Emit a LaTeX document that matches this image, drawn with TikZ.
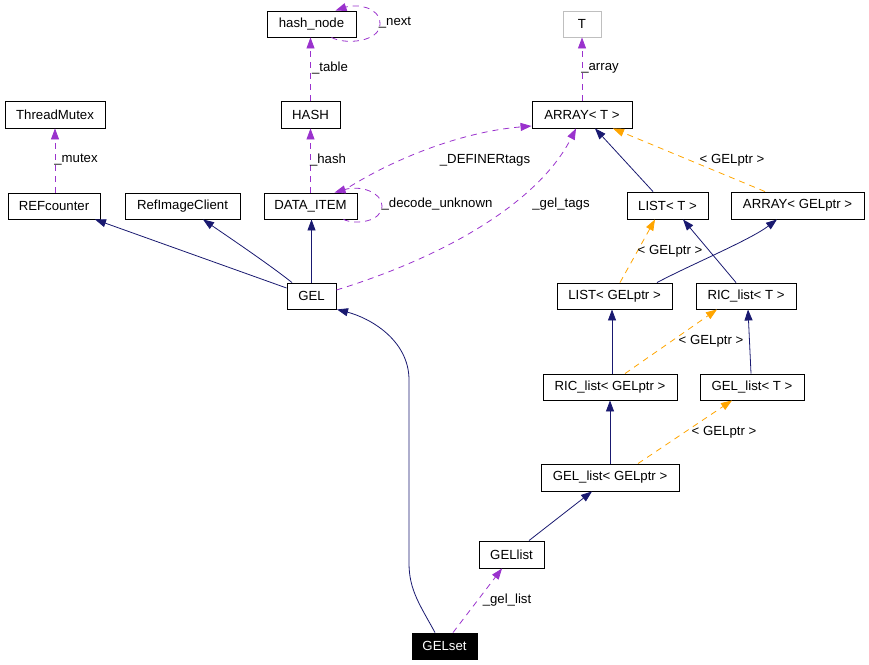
\documentclass[tikz,border=0pt]{standalone}
\usepackage{fontspec}
\setmainfont{Liberation Sans}
\usetikzlibrary{arrows.meta,calc}
\definecolor{navy}{HTML}{191970}
\definecolor{orchid}{HTML}{9A32CD}
\definecolor{orng}{HTML}{FFA500}
\definecolor{lgray}{HTML}{BFBFBF}
\begin{document}
\begin{tikzpicture}[x=1pt,y=-1pt,
  font=\fontsize{13.2}{15}\selectfont,
  box/.style={draw=black,line width=0.9pt,inner sep=0pt,rectangle},
  lbl/.style={inner sep=0pt,text=black},
  inh/.style={draw=navy,line width=0.8pt,-{Triangle[length=11pt,width=8pt]}},
  use/.style={draw=orchid,line width=0.8pt,dash pattern=on 6pt off 5pt,-{Triangle[length=11pt,width=8pt]}},
  tmpl/.style={draw=orng,line width=0.8pt,dash pattern=on 6pt off 5pt,-{Triangle[length=11pt,width=8pt]}}]
\useasboundingbox (0,0) rectangle (869,664);
% nodes
\node[box,minimum width=89pt,minimum height=26pt] (hashnode) at (311.5,24) {hash\_node};
\node[box,minimum width=59pt,minimum height=27pt] (HASH) at (310.5,114.5) {HASH};
\node[box,draw=lgray,minimum width=38pt,minimum height=26pt] (T) at (582,24) {T};
\node[box,minimum width=100pt,minimum height=27pt] (ARRAYT) at (582,114.5) {ARRAY< T >};
\node[box,minimum width=100pt,minimum height=27pt] (ThreadMutex) at (55,114.5) {ThreadMutex};
\node[box,minimum width=92pt,minimum height=26pt] (REFcounter) at (54,206) {REFcounter};
\node[box,minimum width=115pt,minimum height=26pt] (RefImageClient) at (182.5,206) {RefImageClient};
\node[box,minimum width=93pt,minimum height=26pt] (DATAITEM) at (310.5,206) {DATA\_ITEM};
\node[box,minimum width=49pt,minimum height=26pt] (GEL) at (311.5,296) {GEL};
\node[box,minimum width=81pt,minimum height=27pt] (LISTT) at (667.5,205.5) {LIST< T >};
\node[box,minimum width=133pt,minimum height=27pt] (ARRAYG) at (797.5,205.5) {ARRAY< GELptr >};
\node[box,minimum width=115pt,minimum height=26pt] (LISTG) at (614.5,296) {LIST< GELptr >};
\node[box,minimum width=100pt,minimum height=26pt] (RICT) at (746,296) {RIC\_list< T >};
\node[box,minimum width=134pt,minimum height=26pt] (RICG) at (610,387) {RIC\_list< GELptr >};
\node[box,minimum width=104pt,minimum height=26pt] (GELT) at (752,387) {GEL\_list< T >};
\node[box,minimum width=138pt,minimum height=27pt] (GELLG) at (610,477.5) {GEL\_list< GELptr >};
\node[box,minimum width=65pt,minimum height=27pt] (GELlist) at (511.5,554.5) {GELlist};
\node[box,fill=black,text=white,minimum width=65pt,minimum height=26pt] (GELset) at (444.5,646) {GELset};
% usage edges
\draw[use] (HASH.north) -- (HASH.north |- hashnode.south);
\draw[use] ([xshift=20pt]hashnode.south) .. controls (345,45) and (380,42) .. (380,24) .. controls (380,6) and (355,4) .. ([xshift=24pt]hashnode.north);
\draw[use] (DATAITEM.north) -- (DATAITEM.north |- HASH.south);
\draw[use] ([xshift=1pt]REFcounter.north) -- (ThreadMutex.south);
\draw[use] (ARRAYT.north) -- (T.south);
\draw[use] ([xshift=33pt]DATAITEM.south) .. controls (355,225) and (382,222) .. (382,206) .. controls (382,192) and (360,185) .. ([xshift=24pt]DATAITEM.north);
\draw[use] ([xshift=30pt]DATAITEM.north) .. controls (390,160) and (460,132) .. ([yshift=-11.5pt]ARRAYT.west);
\draw[use] ([yshift=6pt]GEL.east) .. controls (450,255) and (540,200) .. ([xshift=-6pt]ARRAYT.south);
\draw[use] ([xshift=8.5pt]GELset.north) -- ([xshift=-9.5pt]GELlist.south);
% inheritance edges
\draw[inh] ([yshift=8pt]GEL.west) -- ([xshift=41pt]REFcounter.south);
\draw[inh] ([xshift=-19.5pt]GEL.north) .. controls (270,265) and (230,238) .. ([xshift=20.5pt]RefImageClient.south);
\draw[inh] (GEL.north) -- (GEL.north |- DATAITEM.south);
\draw[inh] ([xshift=-14.5pt]LISTT.north) -- ([xshift=13pt]ARRAYT.south);
\draw[inh] ([xshift=42.5pt]LISTG.north) .. controls (690,265) and (750,240) .. ([xshift=-20.5pt]ARRAYG.south);
\draw[inh] ([xshift=-10pt]RICT.north) -- ([xshift=15.5pt]LISTT.south);
\draw[inh] ([xshift=2pt]RICG.north) -- ([xshift=-2.5pt]LISTG.south);
\draw[inh] ([xshift=-1pt]GELT.north) -- ([xshift=2pt]RICT.south);
\draw[inh] (GELLG.north) -- (RICG.south);
\draw[inh] ([xshift=17.5pt]GELlist.north) -- ([xshift=-18pt]GELLG.south);
\draw[inh] ([xshift=-9.5pt]GELset.north) .. controls (420,605) and (409,590) .. (409,563) -- (409,380) .. controls (409,340) and (370,318) .. ([xshift=25.5pt]GEL.south);
% template edges
\draw[tmpl] ([xshift=-32.5pt]ARRAYG.north) -- ([xshift=31pt]ARRAYT.south);
\draw[tmpl] ([xshift=5.5pt]LISTG.north) -- ([xshift=-12.5pt]LISTT.south);
\draw[tmpl] ([xshift=15pt]RICG.north) -- ([xshift=-29pt]RICT.south);
\draw[tmpl] ([xshift=28pt]GELLG.north) -- ([xshift=-20pt]GELT.south);
% labels
\node[lbl] (lnext) at (395,23) {\_next};
\node[lbl] (ltable) at (330,68) {\_table};
\node[lbl] (lhash) at (328,160) {\_hash};
\node[lbl] (lmutex) at (76,160) {\_mutex};
\node[lbl] (larray) at (600,68) {\_array};
\node[lbl] (ldecode) at (437,204) {\_decode\_unknown};
\node[lbl] (ldefiner) at (485,160) {\_DEFINERtags};
\node[lbl] (lgeltags) at (561,204) {\_gel\_tags};
\node[lbl] (lg1) at (732,160) {< GELptr >};
\node[lbl] (lg2) at (670,251) {< GELptr >};
\node[lbl] (lg3) at (711,341) {< GELptr >};
\node[lbl] (lg4) at (724,432) {< GELptr >};
\node[lbl] (lgellist) at (507,600) {\_gel\_list};
\end{tikzpicture}
\end{document}
